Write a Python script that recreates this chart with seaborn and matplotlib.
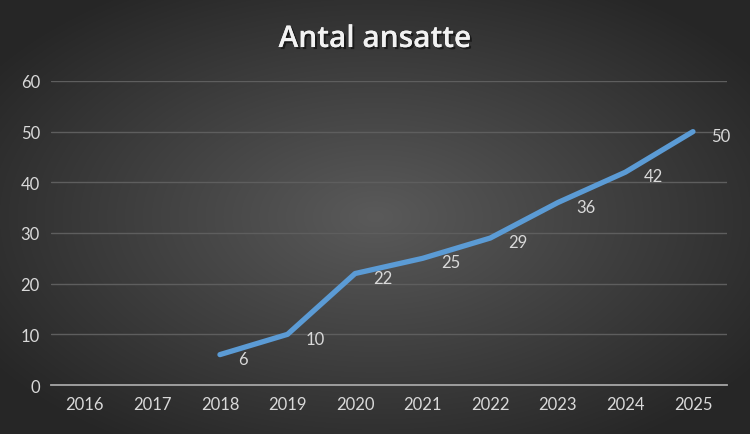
import numpy as np
import pandas as pd
import matplotlib
matplotlib.use("Agg")
import matplotlib.pyplot as plt
import matplotlib.patheffects as pe
import seaborn as sns

years = ["2016", "2017", "2018", "2019", "2020", "2021", "2022", "2023", "2024", "2025"]
employees = [np.nan, np.nan, 6, 10, 22, 25, 29, 36, 42, 50]
title = "Antal ansatte"

sns.set_theme(style="dark")
plt.rcParams['font.family'] = ['Lato', 'DejaVu Sans']

fig = plt.figure(figsize=(7.5, 4.35), dpi=100)

# radial gradient background
bg = fig.add_axes([0, 0, 1, 1], zorder=-10)
h, w = 435, 750
yy, xx = np.mgrid[0:h, 0:w]
cx, cy = w * 0.5, h * 0.5
r = np.sqrt(((xx - cx) / (w * 0.62)) ** 2 + ((yy - cy) / (h * 0.62)) ** 2)
r = np.clip(r, 0, 1)
c_in, c_out = 0x5a / 255, 0x26 / 255
val = c_in + (c_out - c_in) * r
img = np.dstack([val, val, val])
bg.imshow(img, aspect="auto", extent=[0, 1, 0, 1])
bg.axis("off")

ax = fig.add_axes([0.068, 0.1126, 0.901, 0.699])
ax.set_facecolor("none")

df = pd.DataFrame({"x": np.arange(len(years)), "y": employees})
sns.lineplot(data=df.dropna(), x="x", y="y", ax=ax, color="#5B9BD5",
             linewidth=3.8, solid_capstyle="round", solid_joinstyle="round")

for xi, yi in zip(df["x"], df["y"]):
    if not np.isnan(yi):
        ax.annotate(f"{int(yi)}", (xi, yi), xytext=(13, -3), textcoords="offset points",
                    ha="left", va="center", color="#d9d9d9", fontsize=12)

ax.set_xlim(-0.5, len(years) - 0.5)
ax.set_ylim(0, 60)
ax.set_xticks(np.arange(len(years)))
ax.set_xticklabels(years)
ax.set_yticks(np.arange(0, 61, 10))
ax.tick_params(axis="both", colors="#d9d9d9", labelsize=12, length=0, pad=8)
ax.yaxis.grid(True, color="#5e5e5e", linewidth=1)
ax.xaxis.grid(False)
for s in ["top", "right", "left"]:
    ax.spines[s].set_visible(False)
ax.spines["bottom"].set_color("#a6a6a6")
ax.spines["bottom"].set_linewidth(1.3)
ax.set_xlabel("")
ax.set_ylabel("")

fig.text(0.5, 0.908, title, ha="center", va="center", color="#f2f2f2",
         fontsize=21.5, fontweight="semibold", family=["Open Sans", "DejaVu Sans"],
         path_effects=[pe.withSimplePatchShadow(offset=(1.5, -1.5), shadow_rgbFace="black", alpha=0.5),
                       pe.Normal()])

fig.savefig("out.png", dpi=100)
